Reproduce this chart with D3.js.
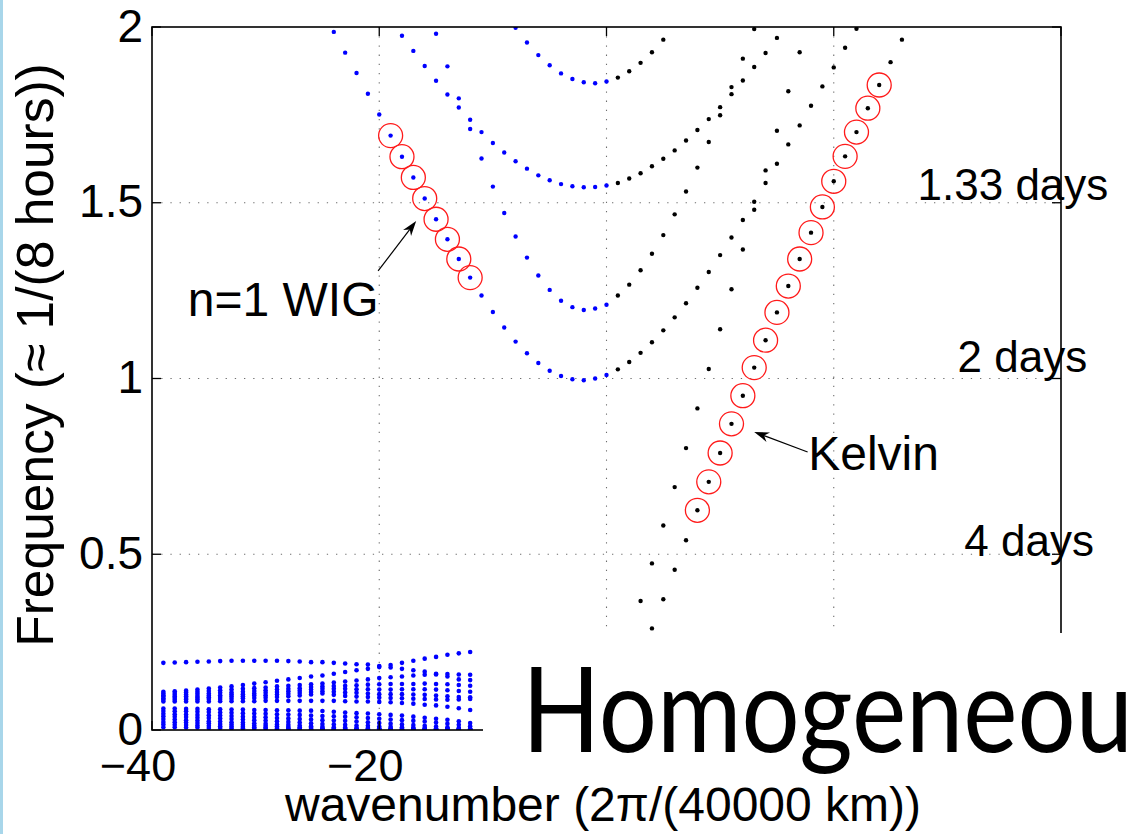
<!DOCTYPE html>
<html>
<head>
<meta charset="utf-8">
<script src="https://cdn.jsdelivr.net/npm/d3@7"></script>
<style>
  html, body { margin: 0; padding: 0; background: #fff; overflow: hidden; }
  svg { display: block; }
</style>
</head>
<body>
<svg id="chart" width="1140" height="834"></svg>
<script>
// ---- Dispersion diagram data: frequency (≈ 1/(8 hours)) vs zonal wavenumber ----

// Westward inertia-gravity branches (blue), integer wavenumbers up to k = 0
const wigBranch1K = [-24,-23,-22,-21,-20,-19,-18,-17,-16,-15,-14,-13,-12,-11,-10,-9,-8,-7,-6,-5,-4,-3,-2,-1,0];
const wigBranch1F = [1.986,1.927,1.869,1.810,1.751,1.691,1.631,1.572,1.512,1.453,1.396,1.340,1.287,1.236,1.189,1.145,1.105,1.072,1.044,1.022,1.007,0.998,0.995,1.000,1.010];
const wigBranch2K = [-15,-14,-13,-12,-11,-10,-9,-8,-7,-6,-5,-4,-3,-2,-1,0];
const wigBranch2F = [1.981,1.888,1.797,1.710,1.626,1.546,1.471,1.404,1.344,1.293,1.252,1.221,1.203,1.195,1.199,1.210];
const wigBranch3K = [-18,-17,-16,-15,-14,-13,-12,-11,-10,-9,-8,-7,-6,-5,-4,-3,-2,-1,0];
const wigBranch3F = [1.975,1.932,1.889,1.847,1.808,1.771,1.736,1.701,1.670,1.643,1.618,1.597,1.578,1.564,1.553,1.547,1.544,1.545,1.549];
const wigBranch4K = [-8,-7,-6,-5,-4,-3,-2,-1,0];
const wigBranch4F = [1.998,1.956,1.920,1.891,1.868,1.852,1.843,1.840,1.845];

// Eastward branches (black), k >= 1
const eigBranch1K = [1,2,3,4,5,6,7,8,9,10,11,12,13,14,15,16,17,18,19,20,21,22];
const eigBranch1F = [1.026,1.047,1.073,1.103,1.137,1.174,1.214,1.258,1.303,1.351,1.401,1.451,1.503,1.556,1.611,1.666,1.720,1.776,1.831,1.885,1.941,1.995];
const eigBranch2K = [1,2,3,4,5,6,7,8,9,10,11,12,13];
const eigBranch2F = [1.236,1.267,1.308,1.355,1.408,1.467,1.532,1.600,1.673,1.749,1.829,1.910,1.994];
const eigBranch3K = [1,2,3,4,5,6,7,8,9,10,11,12,13,14,15];
const eigBranch3F = [1.556,1.569,1.584,1.604,1.625,1.649,1.677,1.707,1.738,1.772,1.809,1.848,1.886,1.926,1.969];
const eigBranch4K = [1,2,3,4,5];
const eigBranch4F = [1.856,1.874,1.898,1.928,1.964];
const steepLineK = [3,4,5,6,7,8,9,10,11,12,13,14,15,16,17];
const steepLineF = [0.367,0.474,0.582,0.691,0.802,0.915,1.027,1.140,1.254,1.367,1.480,1.592,1.705,1.817,1.928];
const kelvinK = [4,5,6,7,8,9,10,11,12,13,14,15,16,17,18,19,20,21,22,23,24,25,26];
const kelvinF = [0.289,0.372,0.456,0.540,0.625,0.706,0.788,0.871,0.951,1.031,1.109,1.188,1.263,1.340,1.415,1.488,1.561,1.632,1.701,1.769,1.835,1.900,1.964];

// Modes marked with a red circle
const circledWigK = [-19,-18,-17,-16,-15,-14,-13,-12];
const circledKelvinK = [8,9,10,11,12,13,14,15,16,17,18,19,20,21,22,23,24];

// Low-frequency westward modes (blue), one row per mode over k = -39 … -12
const lowK = [-39,-38,-37,-36,-35,-34,-33,-32,-31,-30,-29,-28,-27,-26,-25,-24,-23,-22,-21,-20,-19,-18,-17,-16,-15,-14,-13,-12];
const lowTop = [0.191,0.192,0.193,0.194,0.195,0.196,0.197,0.197,0.197,0.197,0.197,0.196,0.195,0.193,0.193,0.191,0.189,0.187,0.186,0.182,0.185,0.191,0.197,0.203,0.208,0.214,0.218,0.222];
const lowR1 = [0.109,0.110,0.112,0.115,0.118,0.121,0.124,0.128,0.132,0.136,0.140,0.144,0.148,0.152,0.155,0.160,0.165,0.170,0.174,0.179,0.178,0.174,0.170,0.166,0.160,0.159,0.158,0.157];
const lowR2 = [0.104,0.105,0.107,0.109,0.111,0.113,0.115,0.117,0.119,0.121,0.124,0.126,0.128,0.130,0.132,0.135,0.138,0.141,0.144,0.148,0.150,0.152,0.155,0.157,0.158,0.152,0.144,0.142];
const lowR3 = [0.099,0.100,0.101,0.103,0.104,0.106,0.107,0.109,0.111,0.113,0.115,0.117,0.119,0.122,0.124,0.125,0.126,0.127,0.129,0.130,0.131,0.131,0.131,0.132,0.131,0.130,0.128,0.126];
const lowR4 = [0.095,0.095,0.096,0.097,0.098,0.099,0.101,0.102,0.104,0.106,0.108,0.110,0.112,0.115,0.117,0.117,0.117,0.116,0.116,0.115,0.115,0.116,0.116,0.116,0.115,0.113,0.111,0.109];
const lowR5 = [0.090,0.091,0.091,0.092,0.093,0.094,0.095,0.096,0.098,0.099,0.101,0.103,0.105,0.108,0.110,0.109,0.107,0.106,0.104,0.102,0.102,0.102,0.101,0.100,0.098,0.096,0.094,0.093];
const lowR6 = [0.086,0.086,0.087,0.087,0.088,0.088,0.089,0.090,0.091,0.092,0.094,0.096,0.098,0.101,0.104,0.100,0.097,0.095,0.094,0.092,0.091,0.090,0.089,0.088,0.087,0.086,0.087,0.088];
const lowR7 = [0.081,0.081,0.081,0.081,0.081,0.082,0.082,0.082,0.082,0.083,0.083,0.083,0.083,0.083,0.083,0.083,0.082,0.081,0.081,0.080,0.079,0.077,0.075,0.072,0.070,0.066,0.062,0.057];
const lowL1 = [0.061,0.061,0.060,0.060,0.059,0.059,0.058,0.058,0.057,0.057,0.056,0.056,0.055,0.055,0.054,0.052,0.050,0.048,0.047,0.045,0.043,0.041,0.038,0.035,0.032,0.029,0.025,0.020];
const lowL2 = [0.054,0.053,0.053,0.052,0.051,0.050,0.049,0.048,0.047,0.046,0.045,0.044,0.043,0.041,0.040,0.039,0.038,0.036,0.034,0.032,0.030,0.028,0.026,0.024,0.021,0.018,0.015,0.011];
const lowL3 = [0.046,0.045,0.044,0.043,0.042,0.041,0.040,0.038,0.037,0.036,0.034,0.033,0.031,0.030,0.028,0.027,0.026,0.024,0.022,0.020,0.018,0.016,0.014,0.012,0.010,0.008,0.006,0.004];
const lowL4 = [0.039,0.038,0.037,0.035,0.034,0.033,0.031,0.030,0.028,0.027,0.025,0.023,0.021,0.019,0.017,0.016,0.015,0.013,0.012,0.010,0.009,0.008,0.007,0.006,0.005,0.004,0.003,0.002];
const lowL5 = [0.031,0.030,0.028,0.027,0.025,0.024,0.022,0.021,0.019,0.018,0.016,0.015,0.013,0.011,0.009,0.008,0.007,0.006,0.006,0.005,0.004,0.004,0.003,0.003,0.003,0.002,0.002,0.002];
const lowL6 = [0.023,0.022,0.021,0.020,0.019,0.017,0.016,0.015,0.013,0.012,0.011,0.009,0.008,0.007,0.005,0.004,0.004,0.003,0.003,0.003,0.002,0.002,0.002,0.002,0.001,0.001,0.001,0.001];
const lowL7 = [0.016,0.015,0.014,0.013,0.012,0.011,0.010,0.009,0.008,0.007,0.006,0.005,0.004,0.003,0.003,0.002,0.002,0.002,0.002,0.001,0.001,0.001,0.001,0.001,0.001,0.001,0.001,0.001];
const lowL8 = [0.008,0.008,0.007,0.007,0.006,0.006,0.005,0.005,0.004,0.004,0.003,0.003,0.002,0.002,0.002,0.001,0.001,0.001,0.001,0.001,0.001,0.001,0.001,0.001,0.001,0.001,0.001,0.001];
const lowRows = [lowTop, lowR1, lowR2, lowR3, lowR4, lowR5, lowR6, lowR7, lowL1, lowL2, lowL3, lowL4, lowL5, lowL6, lowL7, lowL8];

// Axis ticks and labels (only -40 and -20 are labelled below the title box)
const xTicks = [-40, -20, 0, 20, 40];
const xTickLabels = [
  { v: -40, text: "\u221240" },
  { v: -20, text: "\u221220" }
];
const yTicks = [0, 0.5, 1, 1.5, 2];
const yTickLabels = ["0", "0.5", "1", "1.5", "2"];
const xGrid = [-20, 0, 20];
const yGrid = [0.5, 1, 1.5];

// Period labels next to the frequency grid lines
const periodLabels = [
  { text: "1.33 days", k: 35.77, f: 1.508 },
  { text: "2 days",    k: 36.6,  f: 1.018 },
  { text: "4 days",    k: 37.2,  f: 0.495 }
];

// ---- Drawing ----
const W = 1140, H = 834;
const plot = { left: 152, right: 1061, top: 27, bottom: 730 };
const svg = d3.select("#chart");
const FONT = "'Liberation Sans', Arial, Helvetica, sans-serif";

const x = d3.scaleLinear().domain([-40, 40]).range([plot.left, plot.right]);
const y = d3.scaleLinear().domain([0, 2]).range([plot.bottom, plot.top]);

svg.append("rect").attr("width", W).attr("height", H).attr("fill", "#fff");

// clip marks to the axes box
svg.append("defs").append("clipPath").attr("id", "plotClip")
  .append("rect")
  .attr("x", plot.left).attr("y", plot.top)
  .attr("width", plot.right - plot.left).attr("height", plot.bottom - plot.top);

// dotted grid
const grid = svg.append("g").attr("stroke", "#6e6e6e").attr("stroke-width", 1.1)
  .attr("stroke-dasharray", "1.3 7.9").attr("fill", "none");
grid.selectAll("line.gx").data(xGrid).join("line")
  .attr("x1", d => x(d)).attr("x2", d => x(d))
  .attr("y1", plot.top).attr("y2", plot.bottom);
grid.selectAll("line.gy").data(yGrid).join("line")
  .attr("x1", plot.left).attr("x2", plot.right)
  .attr("y1", d => y(d)).attr("y2", d => y(d));

const marks = svg.append("g").attr("clip-path", "url(#plotClip)");

function pairs(ks, fs) { return ks.map((k, i) => ({ k: k, f: fs[i] })); }
function dots(data, color, r) {
  marks.append("g").selectAll("circle").data(data).join("circle")
    .attr("cx", d => x(d.k)).attr("cy", d => y(d.f))
    .attr("r", r).attr("fill", color);
}

// low-frequency cluster
const lowPts = [];
lowRows.forEach(row => row.forEach((f, i) => lowPts.push({ k: lowK[i], f: f })));
dots(lowPts, "#0000ff", 2.3);

// westward branches
[[wigBranch1K, wigBranch1F], [wigBranch2K, wigBranch2F], [wigBranch3K, wigBranch3F], [wigBranch4K, wigBranch4F]]
  .forEach(([ks, fs]) => dots(pairs(ks, fs), "#0000ff", 2.2));

// eastward branches
[[eigBranch1K, eigBranch1F], [eigBranch2K, eigBranch2F], [eigBranch3K, eigBranch3F],
 [eigBranch4K, eigBranch4F], [steepLineK, steepLineF], [kelvinK, kelvinF]]
  .forEach(([ks, fs]) => dots(pairs(ks, fs), "#000000", 2.2));

// red circles round the highlighted modes
const circled = pairs(wigBranch1K, wigBranch1F).filter(d => circledWigK.includes(d.k))
  .concat(pairs(kelvinK, kelvinF).filter(d => circledKelvinK.includes(d.k)));
marks.append("g").selectAll("circle").data(circled).join("circle")
  .attr("cx", d => x(d.k)).attr("cy", d => y(d.f))
  .attr("r", 12).attr("fill", "none").attr("stroke", "#ff1a1a").attr("stroke-width", 1.3);

// axes box with inward ticks on all four sides
const axes = svg.append("g").attr("stroke", "#000").attr("fill", "none");
axes.append("rect").attr("x", plot.left).attr("y", plot.top)
  .attr("width", plot.right - plot.left).attr("height", plot.bottom - plot.top)
  .attr("stroke-width", 1.6);
const TL = 9;
xTicks.forEach(t => {
  axes.append("line").attr("x1", x(t)).attr("x2", x(t)).attr("y1", plot.bottom).attr("y2", plot.bottom - TL).attr("stroke-width", 1.3);
  axes.append("line").attr("x1", x(t)).attr("x2", x(t)).attr("y1", plot.top).attr("y2", plot.top + TL).attr("stroke-width", 1.3);
});
yTicks.forEach(t => {
  axes.append("line").attr("x1", plot.left).attr("x2", plot.left + TL).attr("y1", y(t)).attr("y2", y(t)).attr("stroke-width", 1.3);
  axes.append("line").attr("x1", plot.right).attr("x2", plot.right - TL).attr("y1", y(t)).attr("y2", y(t)).attr("stroke-width", 1.3);
});

// tick labels
svg.append("g").selectAll("text").data(yTicks).join("text")
  .attr("x", plot.left - 9).attr("y", d => y(d) - 2).attr("dy", "0.36em")
  .attr("text-anchor", "end").attr("font-family", FONT).attr("font-size", 46)
  .text((d, i) => yTickLabels[i]);
svg.append("g").selectAll("text").data(xTickLabels).join("text")
  .attr("x", d => x(d.v) - 14).attr("y", 781)
  .attr("text-anchor", "middle").attr("font-family", FONT).attr("font-size", 45)
  .text(d => d.text);

// y axis title
svg.append("text")
  .attr("transform", "translate(53,355) rotate(-90)")
  .attr("text-anchor", "middle").attr("font-family", FONT).attr("font-size", 51.5)
  .text("Frequency (\u2248 1/(8 hours))");

// annotations
function arrow(from, to) {
  const x1 = x(from[0]), y1 = y(from[1]), x2 = x(to[0]), y2 = y(to[1]);
  const a = Math.atan2(y2 - y1, x2 - x1);
  const len = 15, half = 5;
  const bx = x2 - len * Math.cos(a), by = y2 - len * Math.sin(a);
  const nx = -Math.sin(a), ny = Math.cos(a);
  const notchX = x2 - 0.7 * len * Math.cos(a), notchY = y2 - 0.7 * len * Math.sin(a);
  svg.append("line").attr("x1", x1).attr("y1", y1).attr("x2", notchX).attr("y2", notchY)
    .attr("stroke", "#000").attr("stroke-width", 1.2);
  svg.append("path")
    .attr("d", `M${x2},${y2}L${bx + half * nx},${by + half * ny}L${notchX},${notchY}L${bx - half * nx},${by - half * ny}Z`)
    .attr("fill", "#000");
}
arrow([-20.1, 1.306], [-16.75, 1.448]);
arrow([17.7, 0.791], [13.0, 0.848]);

svg.append("text").attr("x", x(-36.85)).attr("y", y(1.178))
  .attr("font-family", FONT).attr("font-size", 48).text("n=1 WIG");
svg.append("text").attr("x", x(17.75)).attr("y", y(0.741))
  .attr("font-family", FONT).attr("font-size", 48).text("Kelvin");

svg.append("g").selectAll("text").data(periodLabels).join("text")
  .attr("x", d => x(d.k)).attr("y", d => y(d.f))
  .attr("text-anchor", "middle")
  .attr("font-family", FONT).attr("font-size", 44)
  .text(d => d.text);

// slide title box laid over the lower right of the figure
svg.append("rect").attr("x", 483).attr("y", 633).attr("width", W - 483).attr("height", 150).attr("fill", "#fff");
svg.append("text")
  .attr("transform", "translate(522,752) scale(0.87,1)")
  .attr("font-family", "Lato, 'Open Sans', sans-serif").attr("font-size", 118)
  .attr("fill", "#000").text("Homogeneou");

// x axis title
svg.append("text").attr("x", 603).attr("y", 821)
  .attr("text-anchor", "middle").attr("font-family", FONT).attr("font-size", 48)
  .text("wavenumber (2\u03c0/(40000 km))");

// thin coloured strip at the left edge
svg.append("rect").attr("x", 0).attr("y", 0).attr("width", 3).attr("height", H).attr("fill", "#a8d6ea");
</script>
</body>
</html>
